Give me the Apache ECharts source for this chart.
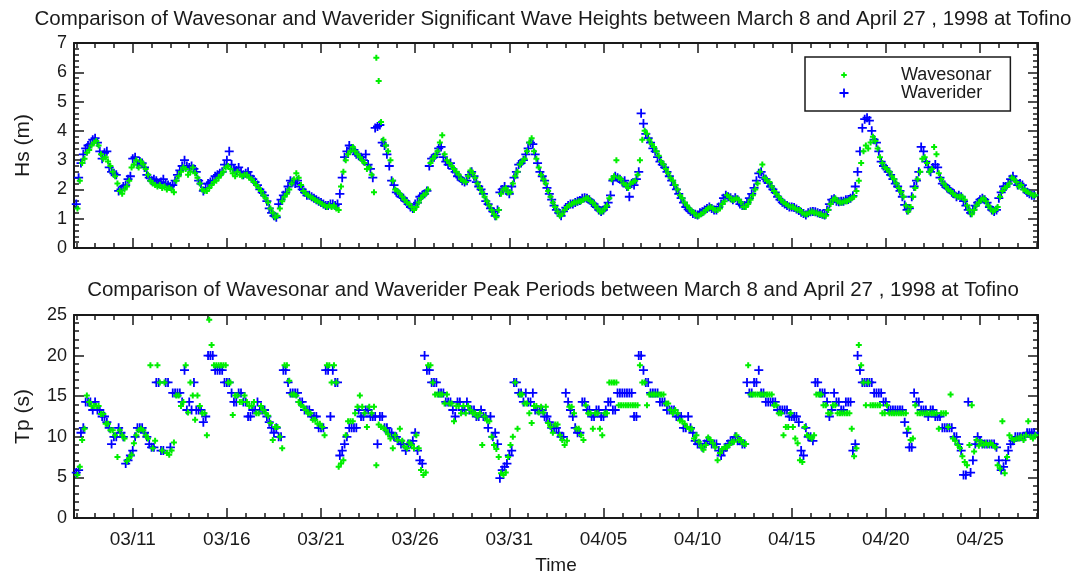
<!DOCTYPE html>
<html lang="en">
<head>
    <meta charset="UTF-8">
    <title>Wavesonar vs Waverider, Tofino 1998</title>
    <script src="https://cdn.jsdelivr.net/npm/echarts@6/dist/echarts.min.js"></script>
    <style>
        body { margin: 0; background: #fff; }
    </style>
</head>
<body>
<div id="main" style="width: 1078px;height:579px;"></div>

<script type="text/javascript">
    // time is counted in days from March 0, 1998 (so 11 = March 11, 36 = April 5)
    // both instruments: one sample every 3 h, waverider from March 8 00:00,
    // wavesonar from March 8 01:30. One row of 8 values per day, March 8 .. April 27.
    var firstDay = 8;
    var sampleStep = 0.125;
    var riderOffset = 0;
    var sonarOffset = 0.0625;

    var tickDays = [11, 16, 21, 26, 31, 36, 41, 46, 51, 56];
    var dayTicks = [];
    for (var d = 8; d <= 59; d++) dayTicks.push(d);

    // significant wave height (m), waverider
    var hsRider = [
        1.5, 2.4, 2.9, 3.2, 3.4, 3.5, 3.55, 3.7,
        3.75, 3.6, 3.3, 3.05, 3.25, 3.3, 2.75, 2.6,
        2.55, 2.5, 1.95, 2.0, 2.1, 2.15, 2.35, 2.45,
        3.05, 3.1, 2.85, 2.95, 2.9, 2.75, 2.5, 2.4,
        2.3, 2.35, 2.3, 2.2, 2.25, 2.35, 2.2, 2.15,
        2.1, 2.15, 2.3, 2.5, 2.65, 2.8, 3.0, 2.8,
        2.75, 2.8, 2.7, 2.6, 2.3, 2.2, 1.95, 2.05,
        2.2, 2.25, 2.3, 2.45, 2.5, 2.55, 2.6, 2.85,
        3.0, 3.3, 2.85, 2.7, 2.65, 2.75, 2.6, 2.5,
        2.55, 2.6, 2.45, 2.35, 2.25, 2.15, 2.0, 1.9,
        1.8, 1.6, 1.35, 1.2, 1.1, 1.05, 1.5, 1.65,
        1.8, 1.9, 2.1, 2.3, 2.25, 2.2, 2.3, 2.1,
        2.0, 1.9, 1.8, 1.8, 1.75, 1.7, 1.65, 1.6,
        1.55, 1.5, 1.45, 1.45, 1.5, 1.5, 1.45, 1.5,
        1.85, 2.4, 3.1, 3.3, 3.5, 3.4, 3.35, 3.2,
        3.15, 3.1, 3.0, 3.2, 2.85, 2.7, 2.4, 4.1,
        4.15, 4.2, 3.6, 3.5, 3.2, 2.8, 2.3, 2.15,
        1.9, 1.85, 1.75, 1.7, 1.6, 1.5, 1.4, 1.35,
        1.5, 1.55, 1.75, 1.8, 1.85, 1.95, 2.8, 3.05,
        3.1, 3.2, 3.4, 3.45, 3.1, 2.95, 2.85, 2.9,
        2.7, 2.6, 2.45, 2.4, 2.3, 2.25, 2.3, 2.5,
        2.6, 2.45, 2.25, 2.1, 2.0, 1.85, 1.6, 1.5,
        1.35, 1.25, 1.1, 1.3, 1.9, 2.0, 2.1, 1.95,
        1.85, 2.1, 2.4, 2.6, 2.85, 2.9, 3.0, 3.2,
        3.4, 3.6, 3.55, 3.2, 2.9, 2.6, 2.45, 2.3,
        2.05, 1.85, 1.65, 1.45, 1.3, 1.2, 1.1, 1.25,
        1.38, 1.45, 1.5, 1.5, 1.55, 1.6, 1.62, 1.7,
        1.72, 1.7, 1.65, 1.55, 1.5, 1.4, 1.3, 1.25,
        1.3, 1.4, 1.55, 1.8, 2.3, 2.45, 2.4, 2.35,
        2.25, 2.3, 2.1, 1.75, 2.2, 2.15, 2.35, 2.6,
        4.6, 4.25, 3.9, 3.75, 3.6, 3.4, 3.3, 3.1,
        2.95, 2.85, 2.75, 2.6, 2.45, 2.3, 2.15, 2.0,
        1.85, 1.7, 1.55, 1.4, 1.32, 1.25, 1.18, 1.15,
        1.13, 1.2, 1.24, 1.3, 1.35, 1.4, 1.35, 1.3,
        1.3, 1.4, 1.5, 1.7, 1.8, 1.75, 1.72, 1.65,
        1.72, 1.65, 1.5, 1.45, 1.45, 1.55, 1.7, 1.85,
        2.05, 2.3, 2.55, 2.6, 2.4, 2.35, 2.22, 2.1,
        2.0, 1.9, 1.75, 1.65, 1.56, 1.5, 1.45, 1.4,
        1.4, 1.38, 1.33, 1.28, 1.22, 1.18, 1.13, 1.2,
        1.24, 1.25, 1.24, 1.2, 1.18, 1.15, 1.13, 1.3,
        1.5, 1.65, 1.68, 1.6, 1.58, 1.6, 1.6, 1.65,
        1.66, 1.7, 1.78, 2.1, 2.6, 3.3, 4.1, 4.4,
        4.45, 4.35, 4.0, 3.7, 3.6, 3.3, 2.95, 2.8,
        2.72, 2.6, 2.5, 2.35, 2.2, 2.1, 1.95, 1.75,
        1.47, 1.3, 1.35, 1.75, 2.1, 2.3, 2.6, 3.45,
        3.3, 2.95, 2.75, 2.6, 2.75, 2.85, 2.75, 2.4,
        2.2, 2.15, 2.05, 2.0, 1.9, 1.85, 1.75, 1.8,
        1.75, 1.6, 1.45, 1.3, 1.2, 1.3, 1.45, 1.55,
        1.65, 1.7, 1.65, 1.55, 1.4, 1.3, 1.25, 1.3,
        1.7, 1.9, 2.1, 2.1, 2.2, 2.35, 2.45, 2.3,
        2.15, 2.2, 2.15, 2.0, 1.9, 1.85, 1.8, 1.8
    ];

    // significant wave height (m), wavesonar
    var hsSonar = [
        1.35, 2.3, 2.9, 3.05, 3.25, 3.35, 3.5, 3.6,
        3.65, 3.5, 3.2, 3.05, 3.1, 2.95, 2.8, 2.6,
        2.45, 2.2, 1.95, 1.85, 2.0, 2.1, 2.3, 2.75,
        2.85, 3.0, 2.75, 2.95, 2.85, 2.7, 2.5, 2.3,
        2.2, 2.15, 2.1, 2.15, 2.05, 2.1, 2.0, 2.05,
        2.0, 1.9, 2.3, 2.45, 2.6, 2.75, 2.7, 2.5,
        2.6, 2.75, 2.55, 2.4, 2.2, 2.0, 1.95, 1.95,
        2.05, 2.15, 2.25, 2.3, 2.4, 2.5, 2.6, 2.75,
        2.8, 2.7, 2.55, 2.45, 2.6, 2.5, 2.45, 2.5,
        2.5, 2.4, 2.35, 2.25, 2.15, 2.05, 1.95, 1.8,
        1.7, 1.55, 1.35, 1.2, 1.05, 1.1, 1.35, 1.6,
        1.75, 1.85, 2.0, 2.2, 2.35, 2.55, 2.4, 2.15,
        1.95, 1.85, 1.8, 1.75, 1.7, 1.65, 1.6, 1.55,
        1.5, 1.45, 1.4, 1.45, 1.4, 1.45, 1.35, 1.3,
        2.1, 2.6, 3.0, 3.2, 3.3, 3.45, 3.3, 3.2,
        3.1, 3.0, 2.9, 2.7, 2.75, 2.5, 1.9, 6.5,
        5.7, 4.3, 3.7, 3.5, 3.3, 3.0, 2.3, 2.0,
        1.95, 1.85, 1.75, 1.65, 1.55, 1.5, 1.4, 1.3,
        1.4, 1.55, 1.7, 1.8, 1.85, 2.0, 2.9, 3.05,
        3.15, 3.3, 3.6, 3.85, 3.2, 3.0, 2.9, 2.8,
        2.7, 2.6, 2.5, 2.35, 2.3, 2.25, 2.45, 2.65,
        2.55, 2.4, 2.2, 2.05, 1.9, 1.75, 1.6, 1.45,
        1.3, 1.15, 1.05, 1.3, 1.85, 2.0, 2.05, 1.9,
        1.9, 2.2, 2.45, 2.6, 2.85, 2.95, 3.05, 3.3,
        3.6, 3.75, 3.3, 3.05, 2.75, 2.5, 2.35, 2.2,
        1.95, 1.75, 1.55, 1.4, 1.25, 1.1, 1.15, 1.3,
        1.4, 1.45, 1.5, 1.55, 1.55, 1.6, 1.6, 1.65,
        1.7, 1.7, 1.6, 1.55, 1.45, 1.35, 1.25, 1.25,
        1.35, 1.45, 1.7, 2.35, 2.45, 3.0, 2.4, 2.35,
        2.2, 2.15, 2.05, 2.2, 2.25, 2.3, 2.5, 3.0,
        3.7, 4.0, 3.9, 3.7, 3.55, 3.45, 3.3, 3.15,
        2.95, 2.85, 2.7, 2.55, 2.4, 2.3, 2.15, 2.0,
        1.8, 1.7, 1.55, 1.45, 1.35, 1.25, 1.2, 1.1,
        1.1, 1.15, 1.2, 1.3, 1.35, 1.4, 1.35, 1.3,
        1.3, 1.35, 1.5, 1.6, 1.8, 1.75, 1.65, 1.65,
        1.7, 1.65, 1.55, 1.4, 1.4, 1.5, 1.65, 1.8,
        2.0, 2.2, 2.6, 2.85, 2.4, 2.3, 2.25, 2.1,
        1.95, 1.85, 1.75, 1.65, 1.55, 1.5, 1.45, 1.4,
        1.4, 1.35, 1.3, 1.3, 1.2, 1.15, 1.15, 1.2,
        1.25, 1.2, 1.2, 1.15, 1.15, 1.1, 1.1, 1.3,
        1.5, 1.65, 1.7, 1.6, 1.55, 1.55, 1.6, 1.6,
        1.65, 1.7, 1.75, 1.95, 2.3, 2.9, 3.3, 3.5,
        3.4, 3.6, 3.8, 3.65, 3.4, 3.1, 2.9, 2.75,
        2.7, 2.6, 2.45, 2.35, 2.2, 2.05, 1.9, 1.75,
        1.45, 1.25, 1.4, 1.75, 2.05, 2.35, 2.6, 3.05,
        3.1, 2.9, 2.6, 2.7, 3.45, 3.2, 2.55, 2.35,
        2.2, 2.1, 2.0, 1.95, 1.85, 1.8, 1.75, 1.75,
        1.75, 1.65, 1.45, 1.3, 1.15, 1.3, 1.45, 1.55,
        1.65, 1.7, 1.6, 1.45, 1.35, 1.25, 1.3, 1.4,
        1.75, 1.95, 2.05, 2.1, 2.2, 2.4, 2.35, 2.25,
        2.1, 2.15, 2.0, 1.95, 1.9, 1.85, 1.8, 1.8
    ];

    // peak period (s), waverider
    var tpRider = [
        5.6, 5.9, 10.5, 11.1, 14.3, 14.3, 14.3, 13.3,
        14.3, 13.3, 13.3, 12.5, 12.5, 11.8, 11.1, 9.1,
        10.0, 10.0, 11.1, 10.5, 10.0, 6.7, 7.1, 7.7,
        8.3, 10.0, 11.1, 11.1, 11.1, 10.5, 10.0, 9.1,
        8.7, 8.7, 16.7, 16.7, 8.3, 8.3, 16.7, 16.7,
        8.7, 15.4, 15.4, 15.4, 15.4, 14.3, 18.2, 13.3,
        14.3, 13.3, 16.7, 13.3, 13.3, 13.3, 11.8, 12.5,
        20.0, 20.0, 20.0, 18.2, 18.2, 18.2, 18.2, 16.7,
        16.7, 16.7, 15.4, 14.3, 14.3, 15.4, 15.4, 14.3,
        14.3, 12.5, 12.5, 13.3, 13.3, 14.3, 13.3, 13.3,
        13.3, 12.5, 11.8, 11.1, 10.5, 11.1, 10.0, 10.0,
        18.2, 18.2, 16.7, 15.4, 15.4, 15.4, 15.4, 14.3,
        14.3, 13.3, 13.3, 13.3, 12.5, 12.5, 12.5, 11.1,
        11.1, 11.1, 18.2, 18.2, 12.5, 18.2, 16.7, 16.7,
        7.7, 8.3, 9.1, 10.0, 11.1, 11.1, 11.1, 11.1,
        13.3, 12.5, 12.5, 13.3, 13.3, 12.5, 12.5, 12.5,
        9.1, 12.5, 12.5, 11.1, 11.1, 10.5, 10.5, 10.0,
        10.0, 9.5, 9.1, 9.1, 8.3, 9.1, 9.1, 9.5,
        10.5, 8.3, 7.1, 6.7, 20.0, 18.2, 18.2, 16.7,
        16.7, 16.7, 15.4, 15.4, 15.4, 14.3, 14.3, 14.3,
        13.3, 12.5, 14.3, 14.3, 13.3, 13.3, 14.3, 13.3,
        13.3, 13.3, 12.5, 12.5, 13.3, 12.5, 12.5, 11.1,
        12.5, 10.0, 10.5, 9.1, 4.9, 5.9, 6.3, 6.7,
        7.7, 8.3, 16.7, 16.7, 15.4, 15.4, 14.3, 15.4,
        14.3, 14.3, 15.4, 13.3, 13.3, 13.3, 13.3, 12.5,
        12.5, 11.8, 11.1, 11.1, 11.1, 10.5, 10.0, 10.0,
        15.4, 14.3, 13.3, 12.5, 11.1, 10.5, 10.5, 14.3,
        14.3, 13.3, 13.3, 12.5, 12.5, 13.3, 13.3, 12.5,
        12.5, 13.3, 14.3, 14.3, 13.3, 13.3, 15.4, 15.4,
        15.4, 15.4, 15.4, 15.4, 15.4, 12.5, 12.5, 20.0,
        20.0, 18.2, 16.7, 16.7, 15.4, 15.4, 15.4, 15.4,
        14.3, 14.3, 14.3, 13.3, 13.3, 13.3, 13.3, 12.5,
        12.5, 12.5, 11.1, 11.1, 12.5, 11.1, 10.5, 9.5,
        9.1, 9.1, 8.7, 9.1, 9.5, 9.5, 9.1, 9.1,
        9.1, 8.3, 7.7, 8.3, 8.7, 9.1, 9.5, 9.5,
        10.0, 9.5, 9.5, 9.1, 9.1, 16.7, 15.4, 15.4,
        16.7, 16.7, 18.2, 15.4, 15.4, 14.3, 14.3, 14.3,
        14.3, 14.3, 13.3, 13.3, 13.3, 13.3, 13.3, 12.5,
        12.5, 12.5, 12.5, 11.8, 8.3, 7.7, 11.1, 10.0,
        10.0, 9.5, 16.7, 16.7, 15.4, 15.4, 15.4, 14.3,
        12.5, 13.3, 15.4, 14.3, 14.3, 13.3, 13.3, 14.3,
        14.3, 14.3, 8.3, 9.1, 20.0, 18.2, 16.7, 16.7,
        16.7, 16.7, 16.7, 15.4, 15.4, 15.4, 15.4, 14.3,
        14.3, 13.3, 13.3, 13.3, 13.3, 13.3, 13.3, 13.3,
        11.8, 10.5, 8.7, 8.7, 15.4, 14.3, 14.3, 13.3,
        13.3, 13.3, 12.5, 13.3, 13.3, 12.5, 12.5, 12.5,
        11.1, 11.1, 11.1, 11.1, 11.1, 10.0, 10.0, 9.1,
        8.3, 5.3, 5.3, 14.3, 5.6, 7.1, 9.1, 10.0,
        9.5, 9.1, 9.1, 9.1, 9.1, 9.1, 9.1, 8.7,
        7.1, 5.9, 6.3, 7.1, 8.3, 9.1, 9.5, 10.0,
        10.0, 10.0, 10.0, 10.0, 10.5, 10.5, 10.5, 10.5
    ];

    // peak period (s), wavesonar
    var tpSonar = [
        5.3, 6.3, 9.6, 11.0, 15.1, 14.3, 13.8, 13.8,
        13.8, 13.8, 12.8, 12.8, 11.6, 11.6, 10.8, 10.8,
        10.2, 7.5, 10.8, 10.2, 9.8, 7.0, 7.4, 7.8,
        9.2, 10.2, 10.8, 11.0, 10.8, 10.2, 9.8, 18.8,
        8.6, 9.5, 18.8, 16.7, 8.3, 16.7, 8.0, 7.8,
        8.3, 9.3, 15.1, 15.1, 13.8, 14.3, 18.8, 13.0,
        16.7, 15.1, 12.1, 15.1, 13.8, 12.9, 12.9, 10.2,
        24.4, 21.3, 18.8, 18.8, 18.8, 18.8, 18.8, 18.8,
        16.7, 16.7, 12.7, 15.1, 15.1, 14.3, 14.3, 15.1,
        14.3, 13.8, 13.8, 14.3, 12.9, 12.9, 13.8, 13.3,
        12.9, 12.6, 11.7, 9.6, 11.2, 11.2, 10.0, 8.6,
        18.8, 18.8, 16.9, 15.2, 15.2, 15.1, 14.3, 13.9,
        13.7, 13.3, 12.9, 12.9, 12.1, 12.1, 11.6, 11.6,
        11.2, 10.2, 18.8, 18.8, 16.7, 18.8, 16.7, 6.3,
        6.7, 7.1, 10.2, 11.9, 11.9, 11.9, 12.9, 13.7,
        15.1, 13.7, 12.9, 11.2, 13.7, 12.9, 13.7, 6.5,
        11.5, 11.2, 11.1, 10.8, 10.3, 9.8, 8.6, 10.2,
        9.6, 11.0, 9.5, 8.8, 8.6, 9.3, 9.0, 8.6,
        10.2, 8.6, 5.9, 5.3, 5.6, 18.8, 18.8, 16.7,
        15.2, 15.2, 15.2, 15.2, 14.1, 15.2, 14.1, 14.1,
        11.9, 13.8, 13.8, 12.9, 13.8, 12.9, 13.8, 13.3,
        12.9, 12.9, 12.5, 12.9, 9.0, 12.5, 12.0, 11.9,
        10.0, 9.0, 8.5, 7.5, 5.5, 5.3, 5.6, 7.5,
        9.0, 10.0, 16.7, 11.0, 15.2, 15.2, 14.1, 14.1,
        12.9, 11.7, 13.8, 13.8, 13.0, 13.7, 13.0, 13.7,
        11.7, 11.2, 10.5, 11.5, 11.5, 10.2, 9.6, 9.0,
        9.5, 13.7, 13.7, 12.9, 11.0, 11.0, 10.2, 9.6,
        13.9, 12.9, 12.9, 11.0, 12.9, 12.9, 11.0, 10.2,
        12.9, 12.9, 16.7, 16.7, 16.7, 16.7, 13.9, 13.9,
        13.9, 13.9, 13.9, 13.9, 13.9, 13.9, 13.9, 18.8,
        16.7, 16.7, 13.9, 15.2, 15.2, 15.2, 15.2, 15.2,
        15.2, 15.2, 14.1, 14.1, 13.3, 12.9, 13.3, 12.9,
        12.0, 11.9, 11.6, 11.2, 11.0, 11.0, 9.8, 10.2,
        9.4, 8.8, 8.4, 9.0, 9.9, 9.6, 9.2, 8.7,
        7.1, 8.0, 8.5, 8.7, 8.7, 9.0, 9.4, 9.4,
        10.2, 9.6, 9.6, 9.1, 9.1, 18.8, 15.2, 15.2,
        15.2, 15.2, 15.2, 15.2, 15.2, 15.2, 15.2, 15.2,
        13.9, 13.9, 12.9, 12.9, 10.2, 11.2, 11.2, 12.9,
        11.2, 9.8, 9.2, 7.1, 6.9, 11.2, 10.2, 10.0,
        9.8, 10.2, 15.2, 15.2, 15.2, 13.9, 13.9, 12.9,
        12.9, 13.9, 13.9, 12.9, 12.9, 12.9, 12.9, 12.9,
        12.9, 11.0, 7.6, 8.6, 21.3, 18.8, 16.7, 13.9,
        16.7, 13.9, 13.9, 13.9, 13.9, 13.9, 12.9, 12.9,
        13.9, 12.9, 12.9, 12.9, 12.9, 12.9, 12.9, 12.9,
        12.9, 11.0, 9.6, 9.8, 13.9, 12.9, 12.9, 12.9,
        12.9, 12.9, 12.9, 12.9, 12.9, 12.9, 11.0, 12.9,
        12.9, 12.9, 11.2, 15.2, 9.8, 9.5, 9.0, 8.6,
        7.6, 6.9, 6.5, 9.0, 13.9, 8.2, 9.6, 8.9,
        9.4, 9.0, 9.2, 9.0, 9.2, 9.0, 8.7, 6.5,
        6.1, 11.9, 5.5, 7.5, 10.2, 9.8, 9.6, 9.8,
        9.8, 10.0, 9.6, 10.2, 11.9, 10.0, 9.8, 10.2
    ];

    var myChart = echarts.init(document.getElementById('main'));

    var FONT = 'Liberation Sans';
    var INK = '#1a1a1a';
    var xMin = 7.88, xMax = 59.08;

    var plusBig = 'path://M4,0h2v4h4v2h-4v4h-2v-4h-4v-2h4z';
    var plusSmall = 'path://M1,0h1v1h1v1h-1v1h-1v-1h-1v-1h1z';
    // legend icons: same 12x12 box (tiny corner dots) so the two crosses keep their own size
    var legendBig = 'path://M0,0h0.01v0.01h-0.01z M11.99,11.99h0.01v0.01h-0.01z M5.1,1.5h1.8v3.6h3.6v1.8h-3.6v3.6h-1.8v-3.6h-3.6v-1.8h3.6z';
    var legendSmall = 'path://M0,0h0.01v0.01h-0.01z M11.99,11.99h0.01v0.01h-0.01z M5.1,3.2h1.8v1.9h1.9v1.8h-1.9v1.9h-1.8v-1.9h-1.9v-1.8h1.9z';

    function toPoints(values, offset) {
        return values.map(function (v, i) { return [firstDay + offset + i * sampleStep, v]; });
    }

    function dayLabel(v) {
        var d = Math.round(v);
        var m = d <= 31 ? '03' : '04';
        if (d > 31) d -= 31;
        return m + '/' + (d < 10 ? '0' + d : d);
    }

    var lineStyle = { color: INK, width: 1.5 };

    // four x axes for each grid: bottom / top frame, each with 5-day and daily ticks
    function xAxes(gi, withLabels) {
        var base = { type: 'value', gridIndex: gi, min: xMin, max: xMax, splitLine: { show: false } };
        var list = [];
        ['bottom', 'top'].forEach(function (pos) {
            var major = Object.assign({}, base, {
                position: pos,
                axisLine: { show: true, onZero: false, lineStyle: { color: INK, width: 2 } },
                axisTick: { show: true, inside: true, length: 10, customValues: tickDays, lineStyle: lineStyle },
                axisLabel: {
                    show: withLabels && pos === 'bottom', customValues: tickDays, formatter: dayLabel,
                    margin: 12, color: INK, fontFamily: FONT, fontSize: 19
                }
            });
            if (withLabels && pos === 'bottom') {
                major.name = 'Time';
                major.nameLocation = 'middle';
                major.nameGap = 38;
                major.nameTextStyle = { color: INK, fontFamily: FONT, fontSize: 19 };
            }
            var minor = Object.assign({}, base, {
                position: pos,
                axisLine: { show: false, onZero: false },
                axisTick: { show: true, inside: true, length: 5, customValues: dayTicks, lineStyle: lineStyle },
                axisLabel: { show: false }
            });
            list.push(major, minor);
        });
        return list;
    }

    function yAxes(gi, max, step, name) {
        var list = [];
        ['left', 'right'].forEach(function (pos) {
            var ax = {
                type: 'value', gridIndex: gi, min: 0, max: max, interval: step, position: pos,
                axisLine: { show: true, onZero: false, lineStyle: { color: INK, width: 2 } },
                axisTick: { show: true, inside: true, length: 10, lineStyle: lineStyle },
                minorTick: { show: true, splitNumber: 5, length: 5, lineStyle: lineStyle },
                splitLine: { show: false },
                minorSplitLine: { show: false },
                axisLabel: { show: pos === 'left', margin: 7, color: INK, fontFamily: FONT, fontSize: 18 }
            };
            if (pos === 'left') {
                ax.name = name;
                ax.nameLocation = 'middle';
                ax.nameGap = 40;
                ax.nameTextStyle = { color: INK, fontFamily: FONT, fontSize: 21 };
            }
            list.push(ax);
        });
        return list;
    }

    function scatter(name, xi, yi, values, offset, big) {
        return {
            name: name, type: 'scatter', xAxisIndex: xi, yAxisIndex: yi,
            symbol: big ? plusBig : plusSmall,
            symbolSize: big ? 9 : 6,
            itemStyle: { color: big ? '#0000ff' : '#00ee00', opacity: 1 },
            data: toPoints(values, offset),
            silent: true
        };
    }

    var titleStyle = { color: INK, fontFamily: FONT, fontSize: 20.5, fontWeight: 'normal', lineHeight: 22 };

    var option = {
        animation: false,
        backgroundColor: '#ffffff',
        title: [
            { text: 'Comparison of Wavesonar and Waverider Significant Wave Heights between March 8 and April 27 , 1998 at Tofino',
              left: 553, top: 8, padding: 0, textAlign: 'center', textStyle: titleStyle },
            { text: 'Comparison of Wavesonar and Waverider Peak Periods between March 8 and April 27 , 1998 at Tofino',
              left: 553, top: 279, padding: 0, textAlign: 'center', textStyle: titleStyle }
        ],
        legend: {
            data: [{ name: 'Wavesonar', icon: legendSmall }, { name: 'Waverider', icon: legendBig }],
            orient: 'vertical',
            left: 805, top: 57,
            padding: [9, 19, 9, 33],
            itemWidth: 12, itemHeight: 12, itemGap: 0,
            borderColor: INK, borderWidth: 1.5, borderRadius: 0,
            selectedMode: false,
            formatter: '{t|{name}}',
            textStyle: {
                color: INK,
                rich: { t: { padding: [0, 0, 0, 46], fontFamily: FONT, fontSize: 18, lineHeight: 17, color: INK } }
            }
        },
        grid: [
            { left: 74, top: 43, width: 964, height: 205 },
            { left: 74, top: 315, width: 964, height: 203 }
        ],
        xAxis: xAxes(0, false).concat(xAxes(1, true)),
        yAxis: yAxes(0, 7, 1, 'Hs (m)').concat(yAxes(1, 25, 5, 'Tp (s)')),
        // waverider drawn first so the small wavesonar marks stay visible on top
        series: [
            scatter('Waverider', 0, 0, hsRider, riderOffset, true),
            scatter('Wavesonar', 0, 0, hsSonar, sonarOffset, false),
            scatter('Waverider', 4, 2, tpRider, riderOffset, true),
            scatter('Wavesonar', 4, 2, tpSonar, sonarOffset, false)
        ]
    };

    myChart.setOption(option);
</script>
</body>
</html>
